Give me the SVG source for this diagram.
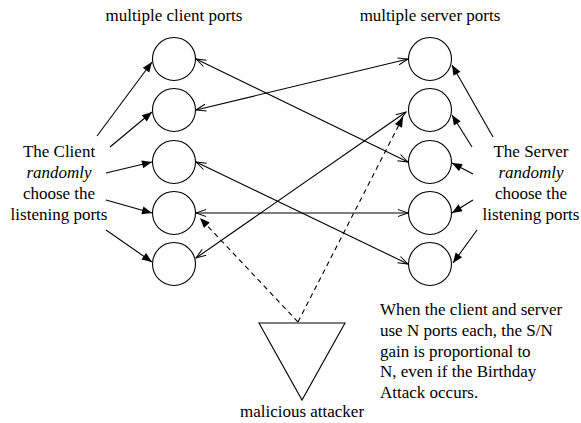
<svg xmlns="http://www.w3.org/2000/svg" width="581" height="423" viewBox="0 0 581 423">
<style>
text{font-size:17px;fill:#000}
.c{text-anchor:middle}
.port{fill:#fff;stroke:#000;stroke-width:1.1}
.ln{fill:none;stroke:#000;stroke-width:1.1}
.dual{marker-start:url(#open);marker-end:url(#open)}
.sel{marker-end:url(#solid)}
.dash{stroke-dasharray:5,4}
</style>
<defs>
<marker id="open" viewBox="-12 -6 14 12" refX="0" refY="0" markerWidth="14" markerHeight="12" markerUnits="userSpaceOnUse" orient="auto-start-reverse">
<path d="M-10,-3.5 L0,0 L-10,3.5" fill="none" stroke="#000" stroke-width="1"/>
</marker>
<marker id="solid" viewBox="-12 -6 14 12" refX="0" refY="0" markerWidth="14" markerHeight="12" markerUnits="userSpaceOnUse" orient="auto">
<path d="M-10,-4 L0,0 L-10,4 z" fill="#000"/>
</marker>
</defs>
<rect width="581" height="423" fill="#fff"/>

<g id="connectors">
<line class="ln dual" x1="196" y1="59" x2="408" y2="162"/>
<line class="ln dual" x1="196" y1="110" x2="408" y2="59"/>
<line class="ln dual" x1="196" y1="162" x2="408" y2="264"/>
<line class="ln dual" x1="196" y1="213" x2="408" y2="213"/>
<line class="ln dual" x1="196" y1="258" x2="406" y2="112"/>
<line class="ln sel" x1="97" y1="136" x2="152" y2="62"/>
<line class="ln sel" x1="110" y1="147" x2="152" y2="112"/>
<line class="ln sel" x1="106" y1="173" x2="152" y2="162"/>
<line class="ln sel" x1="106" y1="200" x2="152" y2="213"/>
<line class="ln sel" x1="106" y1="230" x2="152" y2="262"/>
<line class="ln sel" x1="493" y1="137" x2="452" y2="65"/>
<line class="ln sel" x1="472" y1="147" x2="452" y2="115"/>
<line class="ln sel" x1="473" y1="174" x2="452" y2="163"/>
<line class="ln sel" x1="473" y1="200" x2="452" y2="213"/>
<line class="ln sel" x1="477" y1="230" x2="453" y2="263"/>
<line class="ln dash sel" x1="298" y1="322" x2="200" y2="218"/>
<line class="ln dash sel" x1="298" y1="322" x2="403" y2="117"/>
</g>

<g id="client-ports">
<circle id="client-port-1" class="port" cx="174" cy="59" r="21.5"/>
<circle id="client-port-2" class="port" cx="174" cy="110" r="21.5"/>
<circle id="client-port-3" class="port" cx="174" cy="162" r="21.5"/>
<circle id="client-port-4" class="port" cx="174" cy="213" r="21.5"/>
<circle id="client-port-5" class="port" cx="174" cy="264" r="21.5"/>
</g>
<g id="server-ports">
<circle id="server-port-1" class="port" cx="430" cy="59" r="21.5"/>
<circle id="server-port-2" class="port" cx="430" cy="110" r="21.5"/>
<circle id="server-port-3" class="port" cx="430" cy="162" r="21.5"/>
<circle id="server-port-4" class="port" cx="430" cy="213" r="21.5"/>
<circle id="server-port-5" class="port" cx="430" cy="264" r="21.5"/>
</g>

<g font-family="'Liberation Serif', Tinos, 'Times New Roman', Times, 'DejaVu Serif', serif">
<g id="attacker">
<polygon points="259,323 345,323 302,400" fill="#fff" stroke="#000" stroke-width="1.1"/>
<text class="c" x="302" y="417">malicious attacker</text>
</g>

<g id="titles">
<text class="c" x="174" y="21">multiple client ports</text>
<text class="c" x="430" y="21">multiple server ports</text>
</g>

<g id="client-label">
<text class="c" x="59" y="157">The Client</text>
<text class="c" x="59" y="178" font-style="italic">randomly</text>
<text class="c" x="59" y="199">choose the</text>
<text class="c" x="59" y="220">listening ports</text>
</g>
<g id="server-label">
<text class="c" x="531" y="157">The Server</text>
<text class="c" x="531" y="178" font-style="italic">randomly</text>
<text class="c" x="531" y="199">choose the</text>
<text class="c" x="531" y="220">listening ports</text>
</g>

<g id="note">
<text x="380" y="315">When the client and server</text>
<text x="380" y="336">use N ports each, the S/N</text>
<text x="380" y="356.5">gain is proportional to</text>
<text x="380" y="377">N, even if the Birthday</text>
<text x="380" y="398">Attack occurs.</text>
</g>
</g>
</svg>
